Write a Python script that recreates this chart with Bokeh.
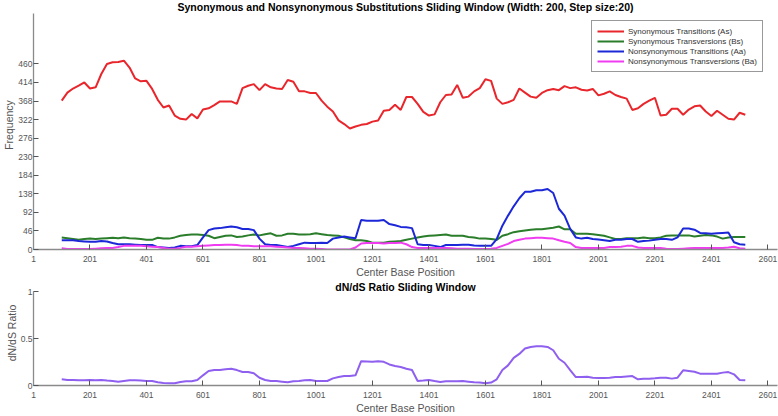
from bokeh.plotting import figure
from bokeh.layouts import column
from bokeh.models import Range1d, FixedTicker, Legend, LegendItem, Label
from bokeh.embed import file_html
from bokeh.resources import INLINE

# ---- data -------------------------------------------------------------
window_centers = list(range(101, 2522, 20))

syn_transitions_As = [
    369, 389, 399, 406, 414, 399, 402, 435, 460, 464,
    465, 468, 451, 424, 417, 418, 398, 371, 352, 357,
    332, 324, 322, 336, 325, 347, 350, 358, 367, 367,
    367, 361, 400, 406, 410, 395, 410, 402, 399, 398,
    420, 416, 392, 392, 388, 388, 369, 354, 342, 320,
    311, 300, 305, 309, 311, 317, 320, 344, 346, 359, 346,
    378, 378, 361, 341, 332, 335, 365, 383, 384, 408,
    376, 379, 392, 400, 422, 418, 374, 361, 365, 371,
    399, 389, 379, 376, 388, 395, 398, 395, 405, 400,
    402, 396, 394, 398, 382, 386, 392, 383, 378, 374,
    346, 350, 361, 369, 376, 332, 334, 349, 349, 334,
    347, 355, 357, 342, 331, 344, 334, 324, 322, 339, 334,
]

syn_transversions_Bs = [
    30, 28, 26, 24, 26, 27, 26, 27, 28, 29,
    28, 30, 28, 27, 26, 24, 24, 29, 27, 27,
    30, 34, 36, 37, 37, 36, 34, 28, 31, 34,
    35, 31, 32, 35, 37, 35, 38, 40, 34, 35,
    39, 39, 37, 37, 38, 40, 38, 36, 35, 34,
    30, 26, 23, 23, 21, 17, 17, 17, 19, 20, 21,
    24, 27, 30, 32, 34, 35, 36, 37, 34, 34,
    34, 31, 30, 27, 27, 26, 24, 34, 38, 43,
    45, 47, 49, 50, 50, 52, 54, 57, 50, 50,
    39, 39, 39, 38, 36, 34, 30, 26, 26, 28,
    28, 28, 30, 28, 28, 30, 34, 35, 35, 35,
    35, 32, 34, 36, 35, 32, 27, 30, 31, 31, 31,
]

nonsyn_transitions_Aa = [
    23, 23, 23, 21, 20, 19, 19, 21, 20, 16,
    13, 13, 13, 12, 11, 11, 11, 6, 5, 4,
    5, 9, 8, 8, 11, 30, 48, 52, 53, 55,
    57, 55, 51, 51, 48, 27, 13, 11, 11, 9,
    6, 9, 13, 17, 16, 16, 17, 16, 27, 30,
    32, 30, 28, 73, 71, 71, 71, 73, 63, 60, 56,
    55, 53, 13, 11, 11, 9, 6, 11, 11, 11,
    12, 12, 10, 9, 9, 9, 26, 59, 84, 107,
    127, 143, 143, 147, 147, 150, 140, 101, 84, 51,
    30, 27, 29, 26, 25, 23, 21, 24, 24, 26,
    26, 19, 21, 22, 24, 26, 26, 24, 30, 52,
    52, 49, 41, 40, 39, 40, 41, 42, 18, 13, 12,
]

nonsyn_transversions_Ba = [
    3, 1, 1, 1, 1, 1, 2, 3, 4, 4,
    6, 9, 9, 9, 9, 8, 7, 6, 4, 2,
    2, 4, 7, 7, 8, 9, 10, 11, 11, 12,
    12, 11, 9, 9, 8, 8, 8, 8, 7, 6,
    5, 4, 4, 3, 2, 2, 1, 0, 0, 0,
    0, 0, 5, 15, 16, 16, 16, 15, 16, 16, 17,
    13, 6, 4, 4, 4, 4, 4, 4, 3, 2,
    2, 2, 1, 1, 1, 2, 4, 9, 14, 21,
    24, 27, 28, 29, 29, 28, 27, 23, 19, 16,
    6, 4, 4, 4, 4, 4, 6, 6, 7, 9,
    9, 5, 4, 4, 4, 4, 2, 1, 1, 2,
    3, 4, 4, 4, 4, 4, 4, 5, 7, 3, 2,
]

dnds_ratio = [
    0.066, 0.059, 0.059, 0.055, 0.055, 0.059, 0.055, 0.059, 0.052, 0.048,
    0.041, 0.048, 0.055, 0.055, 0.052, 0.048, 0.048, 0.034, 0.027, 0.024,
    0.024, 0.038, 0.045, 0.045, 0.059, 0.108, 0.154, 0.164, 0.164, 0.172,
    0.179, 0.164, 0.143, 0.143, 0.130, 0.083, 0.059, 0.048, 0.048, 0.041,
    0.034, 0.045, 0.048, 0.055, 0.059, 0.048, 0.048, 0.048, 0.076, 0.090,
    0.100, 0.100, 0.108, 0.259, 0.256, 0.252, 0.259, 0.252, 0.224, 0.207, 0.197,
    0.179, 0.164, 0.048, 0.052, 0.059, 0.048, 0.038, 0.045, 0.045, 0.045,
    0.048, 0.041, 0.034, 0.031, 0.024, 0.031, 0.066, 0.164, 0.214, 0.294,
    0.336, 0.393, 0.410, 0.417, 0.417, 0.410, 0.375, 0.284, 0.242, 0.164,
    0.090, 0.090, 0.093, 0.083, 0.080, 0.080, 0.083, 0.090, 0.090, 0.097,
    0.100, 0.066, 0.073, 0.073, 0.076, 0.083, 0.083, 0.073, 0.083, 0.161,
    0.154, 0.147, 0.126, 0.126, 0.126, 0.126, 0.137, 0.143, 0.119, 0.059, 0.055,
]

x_ticks = [1, 201, 401, 601, 801, 1001, 1201, 1401, 1601, 1801, 2001, 2201, 2401, 2601]
freq_ticks = [0, 46, 92, 138, 184, 230, 276, 322, 368, 414, 460]
ratio_ticks = [0, 0.5, 1]

series_names = [
    "Synonymous Transitions (As)",
    "Synonymous Transversions (Bs)",
    "Nonsynonymous Transitions (Aa)",
    "Nonsynonymous Transversions (Ba)",
]
series_colors = ["#e8262b", "#2a7d2a", "#1c28d8", "#f03cf0"]
ratio_color = "#8f5ff0"

FONT = "Liberation Sans"
X_MIN, X_MAX = 1, 2635
FREQ_MAX = 585
RATIO_MAX = 1

# ---- layout geometry (pixels) --------------------------------------------
W = 778
H1, H2 = 280, 136
BORDER_BOTTOM = 31
TOP_AXIS_TOP = 13          # where the top y axis ends, measured from frame top
BOT_AXIS_TOP = 11          # same for lower panel
TITLE1_CENTER = 6

frame1_h = H1 - BORDER_BOTTOM
frame2_h = H2 - BORDER_BOTTOM
freq_top = FREQ_MAX * frame1_h / (frame1_h - TOP_AXIS_TOP)
ratio_top = RATIO_MAX * frame2_h / (frame2_h - BOT_AXIS_TOP)


def style_axes(p, yticks, ylabel, ybounds):
    p.outline_line_color = None
    p.grid.visible = False
    p.background_fill_color = "white"
    p.border_fill_color = "white"
    for ax in (p.xaxis[0], p.yaxis[0]):
        ax.axis_line_color = "#8a8a8a"
        ax.axis_line_width = 1.3
        ax.major_tick_line_color = "#555555"
        ax.major_tick_in = 5
        ax.major_tick_out = 0
        ax.minor_tick_line_color = None
        ax.major_label_text_font = FONT
        ax.major_label_text_font_size = "8.5px"
        ax.major_label_text_color = "#555555"
        ax.axis_label_text_font = FONT
        ax.axis_label_text_font_size = "10.5px"
        ax.axis_label_text_font_style = "normal"
        ax.axis_label_text_color = "#555555"
    p.xaxis[0].ticker = FixedTicker(ticks=x_ticks)
    p.xaxis[0].axis_label = "Center Base Position"
    p.xaxis[0].major_label_standoff = 6
    p.xaxis[0].axis_label_standoff = 1
    p.yaxis[0].ticker = FixedTicker(ticks=yticks)
    p.yaxis[0].axis_label = ylabel
    p.yaxis[0].bounds = ybounds
    p.yaxis[0].major_label_standoff = 1
    p.yaxis[0].axis_label_standoff = 0


def title_label(text, y, baseline):
    return Label(x=(X_MIN + X_MAX) / 2, y=y, text=text, text_align="center",
                 text_baseline=baseline, text_font=FONT, text_font_size="10.5px",
                 text_font_style="bold", text_color="black")


# ---- top figure ---------------------------------------------------------
p1 = figure(width=W, height=H1, x_range=Range1d(X_MIN, X_MAX),
            y_range=Range1d(0, freq_top), output_backend="svg",
            toolbar_location=None, min_border_left=33, min_border_right=1,
            min_border_top=0, min_border_bottom=BORDER_BOTTOM)
style_axes(p1, freq_ticks, "Frequency", (0, FREQ_MAX))

renderers = []
for vals, col in zip([syn_transitions_As, syn_transversions_Bs,
                      nonsyn_transitions_Aa, nonsyn_transversions_Ba], series_colors):
    r = p1.line(window_centers, vals, line_color=col, line_width=2)
    renderers.append(r)

legend = Legend(items=[LegendItem(label=n, renderers=[r]) for n, r in zip(series_names, renderers)],
                location=(558, 177), padding=5, spacing=0,
                label_height=10, glyph_height=10, glyph_width=27, label_standoff=4,
                label_text_font=FONT, label_text_font_size="8px", label_text_color="#333333",
                border_line_color="#333333", border_line_width=1,
                background_fill_color="white", background_fill_alpha=1)
p1.add_layout(legend, "center")

p1.add_layout(title_label(
    "Synonymous and Nonsynonymous Substitutions Sliding Window (Width: 200, Step size:20)",
    freq_top * (frame1_h - TITLE1_CENTER) / frame1_h, "middle"))

# ---- bottom figure ------------------------------------------------------
p2 = figure(width=W, height=H2, x_range=Range1d(X_MIN, X_MAX),
            y_range=Range1d(0, ratio_top), output_backend="svg",
            toolbar_location=None, min_border_left=33, min_border_right=1,
            min_border_top=0, min_border_bottom=BORDER_BOTTOM)
style_axes(p2, ratio_ticks, "dN/dS Ratio", (0, RATIO_MAX))
p2.line(window_centers, dnds_ratio, line_color=ratio_color, line_width=2)
p2.add_layout(title_label("dN/dS Ratio Sliding Window", ratio_top, "top"))

layout = column(p1, p2, spacing=0)
open("out.html", "w").write(file_html(layout, INLINE))
